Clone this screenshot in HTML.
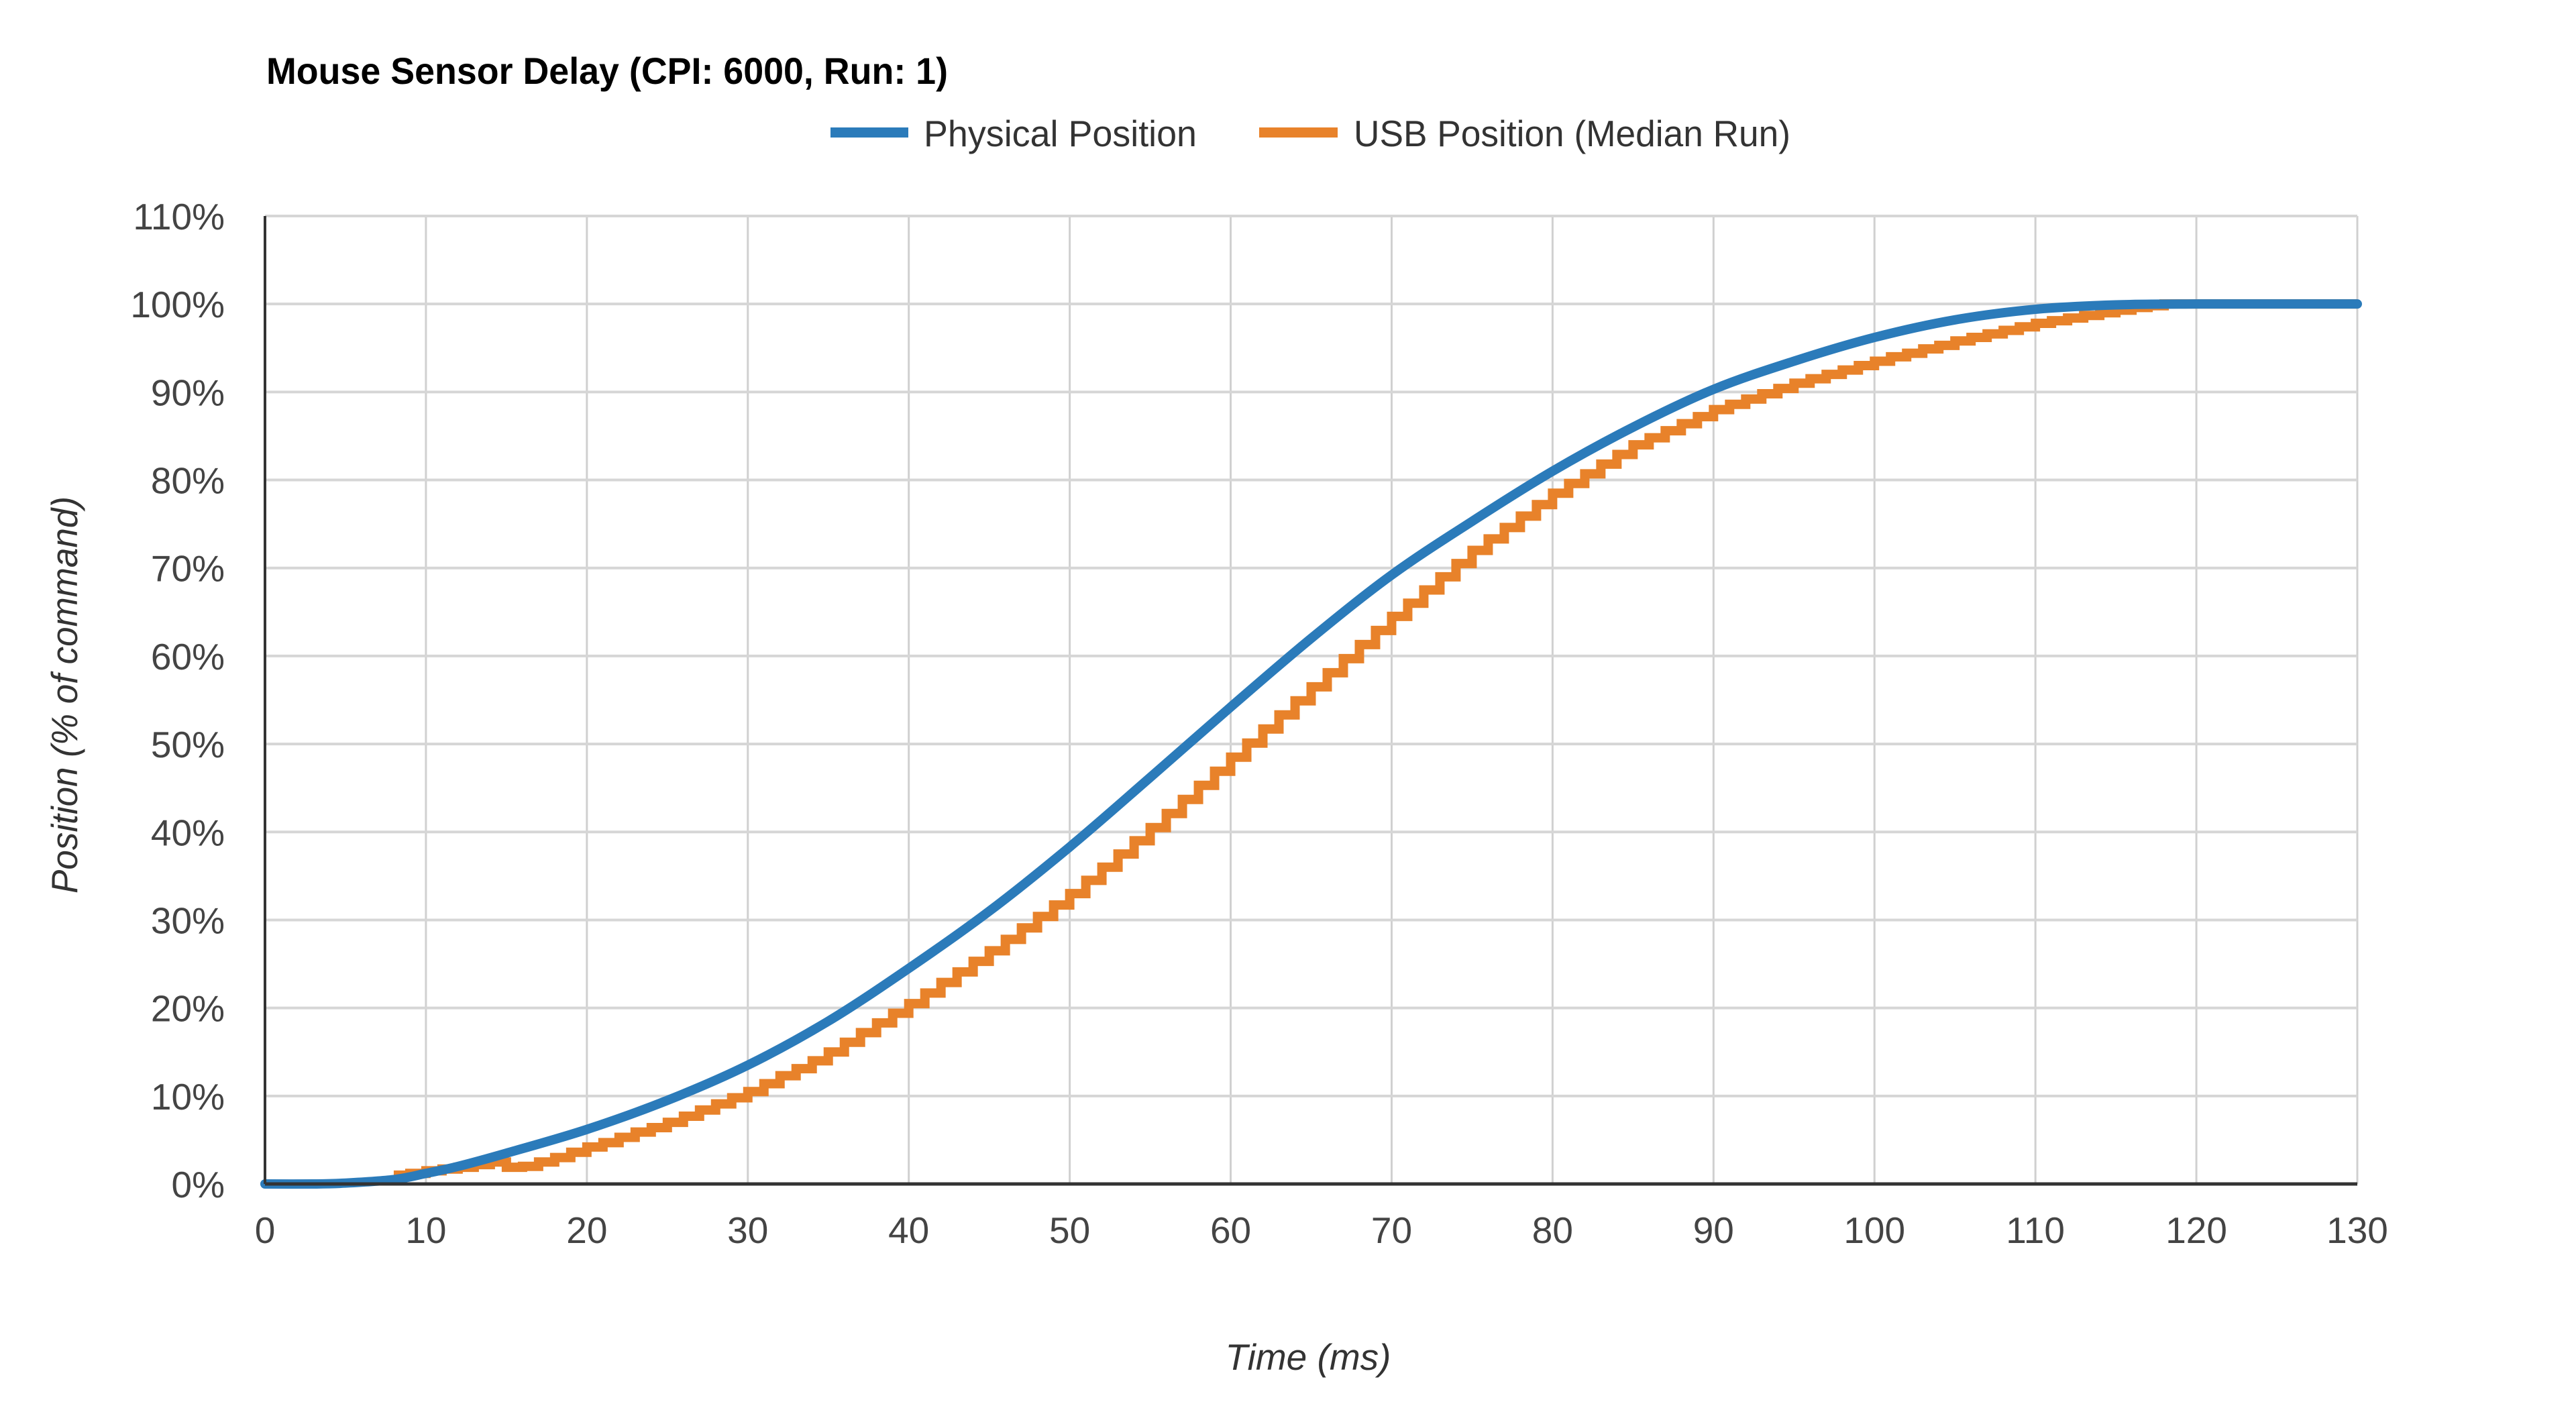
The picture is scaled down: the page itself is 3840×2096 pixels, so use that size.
<!DOCTYPE html>
<html><head><meta charset="utf-8"><style>
html,body{margin:0;padding:0;background:#fff;}
svg{display:block;font-family:"Liberation Sans",Arial,sans-serif;}
</style></head><body>
<svg id="chart" width="3840" height="2096" viewBox="0 0 3840 2096">
<rect width="3840" height="2096" fill="#fff"/>
<text x="397" y="125" font-size="56" font-weight="bold" fill="#000" textLength="1016" lengthAdjust="spacingAndGlyphs">Mouse Sensor Delay (CPI: 6000, Run: 1)</text>
<g>
<g>
<rect x="1238" y="190" width="116" height="15" fill="#2b7bba"/>
<text x="1377" y="218" font-size="55" fill="#333" textLength="407" lengthAdjust="spacingAndGlyphs">Physical Position</text>
</g>
<g>
<rect x="1877" y="190" width="117" height="15" fill="#e8822a"/>
<text x="2018" y="218" font-size="55" fill="#333" textLength="651" lengthAdjust="spacingAndGlyphs">USB Position (Median Run)</text>
</g>
</g>
<g id="grid"></g>
<g id="series"></g>
<g id="axes"></g>
<text x="1950" y="2042" font-size="55" font-style="italic" fill="#333" text-anchor="middle">Time (ms)</text>
<text transform="translate(115,1036) rotate(-90)" font-size="55" font-style="italic" fill="#333" text-anchor="middle" textLength="592" lengthAdjust="spacingAndGlyphs">Position (% of command)</text>
</svg>
<script>
const xTicks = [0,10,20,30,40,50,60,70,80,90,100,110,120,130];
const yTicks = [0,10,20,30,40,50,60,70,80,90,100,110];
const physT = [0,3,5,8,10,12,15,20,25,30,35,40,45,50,55,60,65,70,75,80,85,90,95,100,105,110,115,120,125,130];
const physV = [0,0,0.1,0.5,1.2,2,3.5,6.2,9.5,13.5,18.5,24.5,31,38.3,46.2,54.2,62,69.2,75.3,81,86,90.3,93.5,96.2,98.2,99.4,99.9,100,100,100];
const usbT = [8,9,10,11,12,13,14,15,16,17,18,19,20,21,22,23,24,25,26,27,28,29,30,31,32,33,34,35,36,37,38,39,40,41,42,43,44,45,46,47,48,49,50,51,52,53,54,55,56,57,58,59,60,61,62,63,64,65,66,67,68,69,70,71,72,73,74,75,76,77,78,79,80,81,82,83,84,85,86,87,88,89,90,91,92,93,94,95,96,97,98,99,100,101,102,103,104,105,106,107,108,109,110,111,112,113,114,115,116,117,118,119,120];
const usbV = [1.0,1.2,1.5,1.7,1.9,2.2,2.5,1.9,2.0,2.5,3.0,3.6,4.2,4.7,5.3,5.9,6.4,7.0,7.7,8.4,9.1,9.8,10.5,11.4,12.3,13.1,14.0,15.0,16.1,17.2,18.3,19.4,20.5,21.7,22.9,24.1,25.3,26.5,27.8,29.1,30.4,31.7,33.0,34.5,36.0,37.5,39.0,40.5,42.1,43.7,45.3,46.9,48.5,50.1,51.7,53.3,54.9,56.5,58.1,59.7,61.3,62.9,64.5,66.0,67.5,69.0,70.5,72.0,73.3,74.6,75.9,77.2,78.5,79.6,80.7,81.8,82.9,84.0,84.8,85.6,86.4,87.2,88.0,88.6,89.2,89.8,90.4,91.0,91.5,92.0,92.5,93.0,93.5,94.0,94.4,94.9,95.3,95.8,96.2,96.6,97.0,97.4,97.8,98.1,98.4,98.7,99.0,99.3,99.6,99.8,100,100,100];

const X0=395, X1=3514, Y0=1765, Y1=322;
function xs(t){return X0+(t-0)/(130-0)*(X1-X0);}
function ys(v){return Y0-(v-0)/(110-0)*(Y0-Y1);}
const NS='http://www.w3.org/2000/svg';
function mk(tag,attrs,parent){const e=document.createElementNS(NS,tag);for(const k in attrs)e.setAttribute(k,attrs[k]);parent.appendChild(e);return e;}
const grid=document.getElementById('grid'), axes=document.getElementById('axes'), series=document.getElementById('series');

xTicks.forEach(t=>{
  const l=mk('line',{x1:xs(t),x2:xs(t),y1:Y1,y2:Y0,stroke:'#d0d0d0','stroke-width':3},grid);
  
  
  const tx=mk('text',{x:xs(t),y:1853,'font-size':55,fill:'#444','text-anchor':'middle'},axes);
  tx.textContent=t;
  
  
});
yTicks.forEach(v=>{
  const l=mk('line',{x1:X0,x2:X1,y1:ys(v),y2:ys(v),stroke:'#d6d6d6','stroke-width':4},grid);
  
  
  const tx=mk('text',{x:335,y:ys(v)+20,'font-size':55,fill:'#444','text-anchor':'end'},axes);
  tx.textContent=v+'%';
  
  
});
const xa=mk('line',{x1:X0,x2:X1,y1:Y0,y2:Y0,stroke:'#333','stroke-width':5},axes);


const ya=mk('line',{x1:X0,x2:X0,y1:Y1,y2:Y0,stroke:'#333','stroke-width':4},axes);



let d='M'+xs(usbT[0])+' '+ys(usbV[0]);
for(let i=1;i<usbT.length;i++){d+=' H'+xs(usbT[i])+' V'+ys(usbV[i]);}
d+=' H'+xs(130);
const up=mk('path',{d:d,fill:'none',stroke:'#e8822a','stroke-width':14,'stroke-linejoin':'miter'},series);



const P=physT.map((t,i)=>[xs(t),ys(physV[i])]);
let pd='M'+P[0][0]+' '+P[0][1];
for(let i=0;i<P.length-1;i++){
  const p0=P[Math.max(0,i-1)],p1=P[i],p2=P[i+1],p3=P[Math.min(P.length-1,i+2)];
  const c1=[p1[0]+(p2[0]-p0[0])/6,p1[1]+(p2[1]-p0[1])/6];
  const c2=[p2[0]-(p3[0]-p1[0])/6,p2[1]-(p3[1]-p1[1])/6];
  pd+=' C'+c1[0]+' '+c1[1]+' '+c2[0]+' '+c2[1]+' '+p2[0]+' '+p2[1];
}
const pp=mk('path',{d:pd,fill:'none',stroke:'#2b7bba','stroke-width':14,'stroke-linecap':'round'},series);


</script>
</body></html>
